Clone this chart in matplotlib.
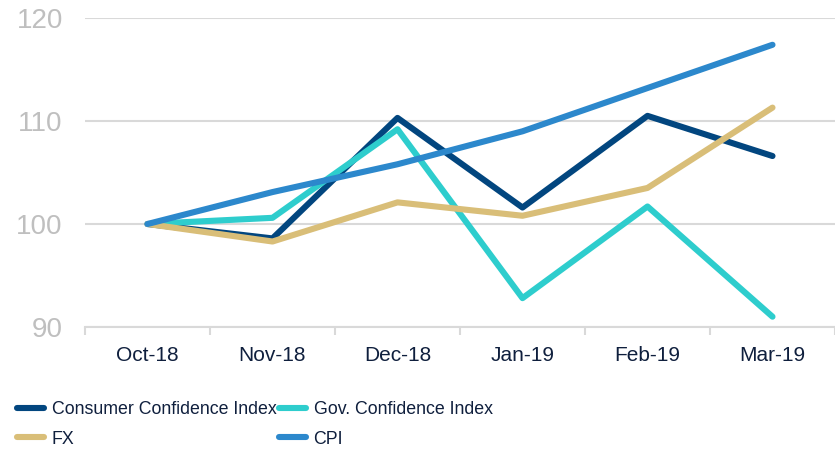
import numpy as np
import matplotlib.pyplot as plt
from matplotlib.lines import Line2D

months = ['Oct-18', 'Nov-18', 'Dec-18', 'Jan-19', 'Feb-19', 'Mar-19']
consumer_conf = [100, 98.6, 110.3, 101.6, 110.5, 106.6]
gov_conf = [100, 100.6, 109.2, 92.8, 101.7, 91.0]
fx = [100, 98.3, 102.1, 100.8, 103.5, 111.3]
cpi = [100, 103.1, 105.8, 109.0, 113.2, 117.4]
y_ticks = [90, 100, 110, 120]

series = [
    ('Consumer Confidence Index', consumer_conf, '#02467F'),
    ('Gov. Confidence Index', gov_conf, '#2ECDCD'),
    ('FX', fx, '#D9BE78'),
    ('CPI', cpi, '#2C88CC'),
]

label_font = ['Liberation Sans', 'DejaVu Sans']
text_col = '#0F1F3D'

fig = plt.figure(figsize=(8.35, 4.5), dpi=100)
ax = fig.add_axes([85 / 835, 1 - 327 / 450, 1 - 85 / 835, (327 - 18) / 450])

x = np.arange(len(months))
lines = {}
for name, vals, col in series:
    ln, = ax.plot(x, vals, color=col, lw=4.4, solid_capstyle='round',
                  solid_joinstyle='round', label=name, zorder=3)
    lines[name] = ln
# CPI sits on top of the others
lines['CPI'].set_zorder(4)

ax.set_ylim(90, 120)
ax.set_yticks(y_ticks)
ax.set_xlim(-0.5, 5.44)
ax.set_xticks(x)
ax.set_xticklabels(months, family=label_font, fontsize=15, color=text_col)
ax.set_xticks(np.arange(-0.5, 6, 1), minor=True)
ax.tick_params(axis='x', which='major', length=0, pad=14)
ax.tick_params(axis='x', which='minor', length=6, color='#D9D9D9', width=1.5)
ax.tick_params(axis='y', length=0, pad=16, labelsize=20, labelcolor='#BFBFBF')
for lab in ax.get_yticklabels():
    lab.set_family(label_font)

ax.grid(axis='y', color='#D9D9D9', lw=1.5, zorder=0)
for s in ['top', 'right', 'left']:
    ax.spines[s].set_visible(False)
ax.spines['bottom'].set_color('#D9D9D9')
ax.spines['bottom'].set_linewidth(1.5)

handles = [Line2D([], [], color=c, lw=4.4, solid_capstyle='round') for _, _, c in series]
names = [n for n, _, _ in series]
order = [0, 2, 1, 3]
leg = fig.legend([handles[i] for i in order], [names[i] for i in order],
                 ncol=2, loc='lower left', bbox_to_anchor=(0.001, -0.03),
                 frameon=False, handlelength=1.5, handletextpad=0.45,
                 columnspacing=0.15, labelspacing=0.7,
                 prop={'family': label_font, 'size': 12.8})
for t in leg.get_texts():
    t.set_color(text_col)

fig.savefig('out.png', dpi=100)
